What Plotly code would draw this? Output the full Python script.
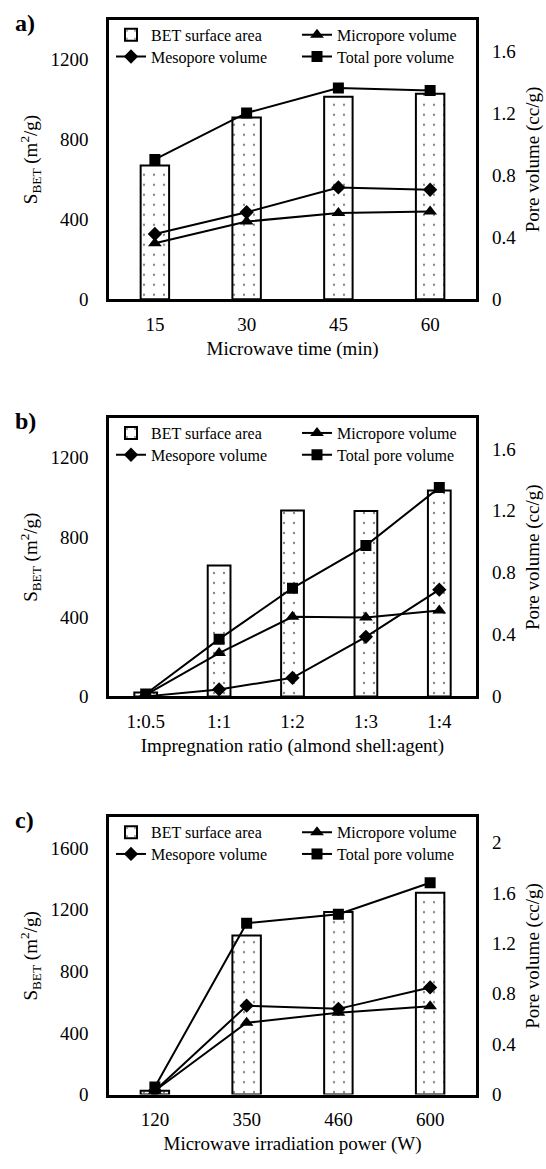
import plotly.graph_objects as go

FONT = "Liberation Serif"
W, H = 546, 1169

# ---------------- data ----------------
cats_a = ["15", "30", "45", "60"]
bet_a = [670, 910, 1015, 1030]
micro_a = [0.36, 0.50, 0.555, 0.565]
meso_a = [0.42, 0.56, 0.72, 0.705]
total_a = [0.90, 1.20, 1.36, 1.345]

cats_b = ["1:0.5", "1:1", "1:2", "1:3", "1:4"]
bet_b = [20, 658, 935, 932, 1035]
micro_b = [0.01, 0.28, 0.515, 0.51, 0.555]
meso_b = [0.0, 0.045, 0.12, 0.385, 0.69]
total_b = [0.015, 0.37, 0.70, 0.975, 1.35]

cats_c = ["120", "350", "460", "600"]
bet_c = [25, 1033, 1185, 1310]
micro_c = [0.03, 0.57, 0.65, 0.70]
meso_c = [0.03, 0.705, 0.68, 0.85]
total_c = [0.06, 1.36, 1.43, 1.68]

x_titles = ["Microwave time (min)",
            "Impregnation ratio (almond shell:agent)",
            "Microwave irradiation power (W)"]
y_left_title = "S<sub>BET</sub> (m<sup>2</sup>/g)"
y_right_title = "Pore volume (cc/g)"
panel_labels = ["a)", "b)", "c)"]
left_max = [1400, 1400, 1800]
right_max = [1.8, 1.8, 2.2]

panels = [
    (cats_a, bet_a, micro_a, meso_a, total_a),
    (cats_b, bet_b, micro_b, meso_b, total_b),
    (cats_c, bet_c, micro_c, meso_c, total_c),
]

# pixel geometry of plot boxes (top, bottom)
X0, X1 = 109, 476
boxes = [(20, 302), (422, 703), (825, 1105)]
# legend entry slots: (x offset px, row)
slots = [(111, 0), (297, 0), (111, 1), (297, 1)]


def px(x):
    return x / W


def py(y):
    return 1 - y / H


fig = go.Figure()
layout = dict(
    width=W, height=H,
    margin=dict(l=0, r=0, t=0, b=0),
    paper_bgcolor="white", plot_bgcolor="white",
    font=dict(family=FONT, size=19, color="black"),
    showlegend=True,
    annotations=[],
)

leg_count = 0


def next_legend(top, slot):
    global leg_count
    leg_count += 1
    name = "legend" if leg_count == 1 else f"legend{leg_count}"
    sx, row = slots[slot]
    layout[name] = dict(
        x=px(sx), y=py(top - 2 + row * 22), xanchor="left", yanchor="top",
        orientation="h",
        font=dict(family=FONT, size=16, color="black"),
        bgcolor="rgba(0,0,0,0)", borderwidth=0,
    )
    return name


for i, (cats, bet, micro, meso, total) in enumerate(panels):
    n = i + 1
    xa = "x" if n == 1 else f"x{n}"
    yl_n = 2 * n - 1
    yr_n = 2 * n
    yl = "y" if yl_n == 1 else f"y{yl_n}"
    yr = f"y{yr_n}"
    top, bot = boxes[i]

    fig.add_trace(go.Bar(
        x=cats, y=bet, xaxis=xa, yaxis=yl, width=0.31,
        name="BET surface area", legend=next_legend(top, 0),
        marker=dict(color="white", line=dict(color="black", width=2),
                    pattern=dict(shape=".", fgcolor="black", bgcolor="white",
                                 size=10, solidity=0.04)),
    ))
    for slot, (vals, nm, sym, sz) in zip([1, 2, 3], [
        (micro, "Micropore volume", "triangle-up", 12),
        (meso, "Mesopore volume", "diamond", 11),
        (total, "Total pore volume", "square", 11),
    ]):
        fig.add_trace(go.Scatter(
            x=cats, y=vals, xaxis=xa, yaxis=yr, mode="lines+markers",
            name=nm, legend=next_legend(top, slot),
            line=dict(color="black", width=2),
            marker=dict(symbol=sym, size=sz, color="black"),
        ))

    dom_y = [py(bot), py(top)]
    xkey = "xaxis" if n == 1 else f"xaxis{n}"
    ylkey = "yaxis" if yl_n == 1 else f"yaxis{yl_n}"
    yrkey = f"yaxis{yr_n}"
    tf = dict(family=FONT, size=19, color="black")
    layout[xkey] = dict(
        domain=[px(X0), px(X1)], anchor=yl, type="category",
        range=[-0.5, len(cats) - 0.5],
        showline=True, linecolor="black", linewidth=2.5, mirror=True,
        ticks="", showgrid=False, zeroline=False,
        tickfont=tf, ticklabelstandoff=6,
        title=dict(text=x_titles[i], font=tf, standoff=8),
    )
    layout[ylkey] = dict(
        domain=dom_y, anchor=xa, range=[0, left_max[i]], tick0=0, dtick=400,
        showline=True, linecolor="black", linewidth=2.5, mirror=True,
        ticks="", showgrid=False, zeroline=False,
        tickfont=tf, ticklabelstandoff=14,
        title=dict(text=y_left_title, font=tf, standoff=8),
    )
    layout[yrkey] = dict(
        overlaying=yl, side="right", anchor=xa,
        range=[0, right_max[i]], tick0=0, dtick=0.4,
        showline=False, ticks="", showgrid=False, zeroline=False,
        tickfont=tf, ticklabelstandoff=15,
        title=dict(text=y_right_title, font=tf, standoff=10),
    )

    layout["annotations"].append(
        dict(text=f"<b>{panel_labels[i]}</b>", x=px(13), y=py(top + 3),
             xref="paper", yref="paper", xanchor="left", yanchor="middle",
             showarrow=False, font=dict(family=FONT, size=24, color="black"))
    )

fig.update_layout(**layout)
fig.write_html("out.html")
